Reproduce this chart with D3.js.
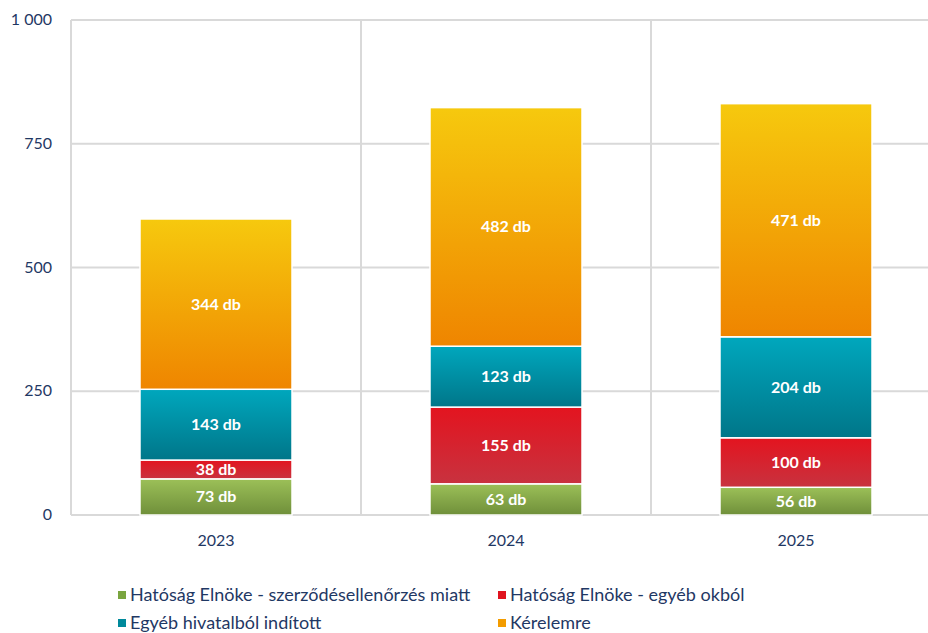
<!DOCTYPE html>
<html><head><meta charset="utf-8">
<script src="https://cdn.jsdelivr.net/npm/d3@7"></script>
<style>body{margin:0;background:#fff}svg{display:block}</style>
</head><body>
<svg id="c" width="928" height="633"></svg>
<script>
const years = ["2023","2024","2025"];
const seriesNames = ["Hatóság Elnöke - szerződésellenőrzés miatt","Hatóság Elnöke - egyéb okból","Egyéb hivatalból indított","Kérelemre"];
const elnokeSzerz = [73,63,56];
const elnokeEgyeb = [38,155,100];
const egyebHivatal = [143,123,204];
const kerelemre = [344,482,471];
const yTicks = [0,250,500,750,1000];

const seriesValues = [elnokeSzerz, elnokeEgyeb, egyebHivatal, kerelemre];
const grads = [["#9cc058","#6f8f3a"],["#e3141f","#c8323f"],["#00a7bd","#007689"],["#f6c90e","#ef8500"]];
const legendCols = ["#7aa53f","#e0141f","#00899b","#f39c00"];

const svg = d3.select("#c");
const font = "Lato, 'Open Sans', sans-serif";
const txt = "#1f3864";
const m = {l:71, t:20, b:515};
const bandW = 290;
const x = d3.scaleBand().domain(years).range([m.l, m.l + bandW*3]).paddingInner(0).paddingOuter(0);
const y = d3.scaleLinear().domain([0,1000]).range([m.b, m.t]);

const defs = svg.append("defs");
grads.forEach((g,i)=>{
  const lg = defs.append("linearGradient").attr("id","g"+i).attr("x1",0).attr("x2",0).attr("y1",0).attr("y2",1);
  lg.append("stop").attr("offset","0%").attr("stop-color",g[0]);
  lg.append("stop").attr("offset","100%").attr("stop-color",g[1]);
});

// grid
svg.append("g").selectAll("line").data(yTicks).join("line")
  .attr("x1",m.l).attr("x2",928).attr("y1",d=>y(d)).attr("y2",d=>y(d))
  .attr("stroke","#d9d9d9").attr("stroke-width",2);
const vlines = [m.l, ...years.map(d=>x(d)+x.bandwidth())];
svg.append("g").selectAll("line").data(vlines).join("line")
  .attr("x1",d=>d).attr("x2",d=>d).attr("y1",m.t).attr("y2",m.b)
  .attr("stroke","#d9d9d9").attr("stroke-width",2);

// y labels
svg.append("g").selectAll("text").data(yTicks).join("text")
  .attr("x",52).attr("y",d=>y(d)+5).attr("text-anchor","end")
  .attr("font-family",font).attr("font-size",16).attr("fill",txt)
  .text(d=>d3.format(",")(d).replace(",", " "));

// x labels
svg.append("g").selectAll("text").data(years).join("text")
  .attr("x",d=>x(d)+x.bandwidth()/2).attr("y",546).attr("text-anchor","middle")
  .attr("font-family",font).attr("font-size",16).attr("fill",txt).text(d=>d);

// stacks
const data = years.map((yr,i)=>{const o={year:yr}; seriesValues.forEach((s,k)=>o["s"+k]=s[i]); return o;});
const stack = d3.stack().keys(seriesValues.map((_,k)=>"s"+k))(data);
const barW = 152;
stack.forEach((layer,k)=>{
  const g = svg.append("g");
  g.selectAll("rect").data(layer).join("rect")
    .attr("x",d=>x(d.data.year)+x.bandwidth()/2-barW/2)
    .attr("width",barW)
    .attr("y",d=>y(d[1]))
    .attr("height",d=>y(d[0])-y(d[1]))
    .attr("fill","url(#g"+k+")")
    .attr("stroke","#fff").attr("stroke-width",1.5);
  g.selectAll("text").data(layer).join("text")
    .attr("x",d=>x(d.data.year)+x.bandwidth()/2)
    .attr("y",d=>(y(d[0])+y(d[1]))/2+5.5)
    .attr("text-anchor","middle").attr("font-family",font).attr("font-weight","bold")
    .attr("font-size",16).attr("fill","#fff")
    .text(d=>(d[1]-d[0])+" db");
});

// legend
const legPos = [[118,595],[498,595],[118,623],[498,623]];
const lg = svg.append("g");
seriesNames.forEach((n,i)=>{
  lg.append("rect").attr("x",legPos[i][0]).attr("y",legPos[i][1]-4).attr("width",8).attr("height",8).attr("fill",legendCols[i]);
  lg.append("text").attr("x",legPos[i][0]+12).attr("y",legPos[i][1]+6)
    .attr("font-family",font).attr("font-size",18).attr("fill",txt).text(n);
});
</script>
</body></html>
